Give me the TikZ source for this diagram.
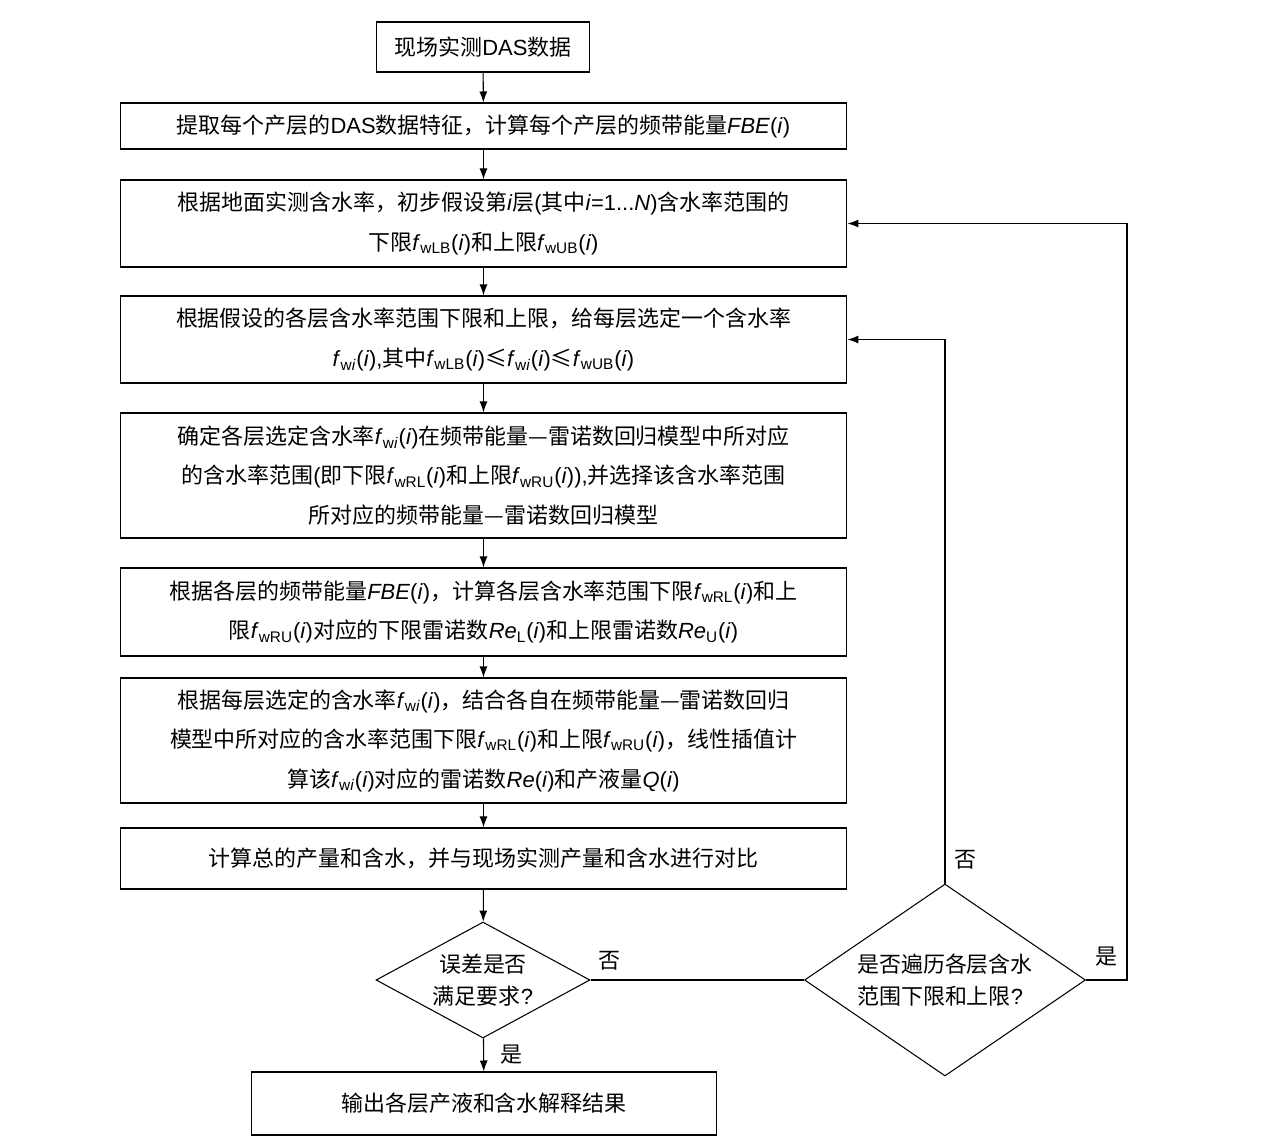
\documentclass[tikz,border=0pt]{standalone}
\usepackage{fontspec}
\setmainfont{Noto Sans CJK SC}
\newfontfamily\lsans{Liberation Sans}
\usetikzlibrary{arrows.meta, shapes.geometric}
\newcommand{\myvar}[1]{{\lsans\textit{#1}}}
\newcommand{\myi}{{\lsans(\textit{i})}}
\newcommand{\fwr}[1]{{\lsans\textit{f}\textsubscript{w#1}}}
\newcommand{\fwi}{{\lsans\textit{f}\textsubscript{w\textit{i}}}}
\begin{document}
\begin{tikzpicture}[x=0.02cm, y=-0.02cm, line width=0.6pt, font=\fontsize{12.5}{22.5}\selectfont]

	\tikzstyle{proc}=[rectangle, draw, align=center, minimum width=14.54cm, inner sep=0pt]
	\tikzstyle{decide}=[diamond, draw, align=center, inner sep=0pt, font=\fontsize{12.5}{18}\selectfont]
	\tikzstyle{link}=[-{Latex[length=2.2mm,width=1.6mm]}]

	\useasboundingbox (0,0) rectangle (1269,1147);

	\node[rectangle, draw, minimum width=4.26cm, minimum height=1cm] (das) at (483,47) {现场实测{\lsans DAS}数据};
	\node[proc, minimum height=0.92cm] (feat) at (483.5,126) {提取每个产层的{\lsans DAS}数据特征，计算每个产层的频带能量\myvar{FBE}\myi{}};
	\node[proc, minimum height=1.74cm] (range) at (483.5,223.5) {根据地面实测含水率，初步假设第\myvar{i}层{\lsans(}其中\myvar{i}{\lsans=1...}\myvar{N}{\lsans)}含水率范围的\\下限\fwr{LB}\myi{}和上限\fwr{UB}\myi{}};
	\node[proc, minimum height=1.74cm] (pick) at (483.5,339.5) {根据假设的各层含水率范围下限和上限，给每层选定一个含水率\\\fwi{}\myi{}{\lsans,}其中\fwr{LB}\myi{}≤\fwi{}\myi{}≤\fwr{UB}\myi{}};
	\node[proc, minimum height=2.5cm] (model) at (483.5,475.5) {确定各层选定含水率\fwi{}\myi{}在频带能量—雷诺数回归模型中所对应\\的含水率范围{\lsans(}即下限\fwr{RL}\myi{}和上限\fwr{RU}\myi{}{\lsans),}并选择该含水率范围\\所对应的频带能量—雷诺数回归模型};
	\node[proc, minimum height=1.76cm] (reyn) at (483.5,612) {根据各层的频带能量\myvar{FBE}\myi{}，计算各层含水率范围下限\fwr{RL}\myi{}和上\\限\fwr{RU}\myi{}对应的下限雷诺数{\lsans\textit{Re}\textsubscript{L}}\myi{}和上限雷诺数{\lsans\textit{Re}\textsubscript{U}}\myi{}};
	\node[proc, minimum height=2.5cm] (interp) at (483.5,740.5) {根据每层选定的含水率\fwi{}\myi{}，结合各自在频带能量—雷诺数回归\\模型中所对应的含水率范围下限\fwr{RL}\myi{}和上限\fwr{RU}\myi{}，线性插值计\\算该\fwi{}\myi{}对应的雷诺数\myvar{Re}\myi{}和产液量\myvar{Q}\myi{}};
	\node[proc, minimum height=1.22cm] (total) at (483.5,858.5) {计算总的产量和含水，并与现场实测产量和含水进行对比};
	\node[decide, minimum width=4.28cm, minimum height=2.32cm, aspect=1.84] (err) at (483,980) {误差是否\\满足要求{\lsans?}};
	\node[decide, minimum width=5.62cm, minimum height=3.84cm, aspect=1.46, align=left] (all) at (945,980) {是否遍历各层含水\\范围下限和上限{\lsans?}};
	\node[rectangle, draw, minimum width=9.32cm, minimum height=1.26cm] (out) at (484,1103.5) {输出各层产液和含水解释结果};
	\coordinate (rt) at (1127,980);

	% main chain
	\draw[link] (das) -- (feat);
	\draw[link] (feat) -- (range);
	\draw[link] (range) -- (pick);
	\draw[link] (pick) -- (model);
	\draw[link] (model) -- (reyn);
	\draw[link] (reyn) -- (interp);
	\draw[link] (interp) -- (total);
	\draw[link] (total) -- (err);
	\draw[link] (err) -- node[right=6pt] {是} (out);

	% loops back
	\draw (err.east) -- node[above=2pt, pos=0.09] {否} (all.west);
	\draw[link] (all.north) |- node[right=2pt, pos=0.022] {否} (pick.east);
	\draw[link] (all.east) -- node[above=4pt] {是} (rt) |- (range.east);

\end{tikzpicture}
\end{document}
